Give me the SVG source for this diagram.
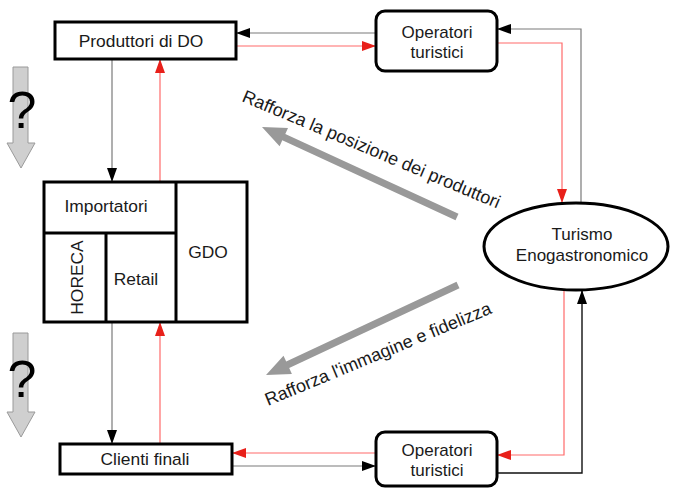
<svg xmlns="http://www.w3.org/2000/svg" width="674" height="488" viewBox="0 0 674 488">
  <defs>
    <marker id="headBlack" markerUnits="userSpaceOnUse" markerWidth="14" markerHeight="10" refX="14" refY="5" orient="auto">
      <path d="M0,0 L14,5 L0,10 Z" fill="#000"/>
    </marker>
    <marker id="headRed" markerUnits="userSpaceOnUse" markerWidth="14" markerHeight="10" refX="14" refY="5" orient="auto">
      <path d="M0,0 L14,5 L0,10 Z" fill="#e8201a"/>
    </marker>
  </defs>
  <style>
    text { font-family: "Liberation Sans", Arial, sans-serif; font-size: 17.4px; fill: #1a1a1a; }
    .slant { font-size: 18px; }
    .two { font-size: 17px; }
    .box { fill: #fff; stroke: #000; stroke-width: 3; }
    .thin { fill: none; stroke: #000; stroke-width: 3; }
    .gline { fill: none; stroke: #7a7a7a; stroke-width: 1.2; marker-end: url(#headBlack); }
    .kline { fill: none; stroke: #111; stroke-width: 1.4; marker-end: url(#headBlack); }
    .rline { fill: none; stroke: #ff6a6a; stroke-width: 1.2; marker-end: url(#headRed); }
    .bigarrow { fill: #999; }
    .qarrow { fill: #cfcfcf; stroke: #9a9a9a; stroke-width: 1; }
    .q { font-size: 52px; fill: #000; }
  </style>

  <!-- connectors -->
  <g id="connectors">
    <!-- Produttori <-> Operatori (top) -->
    <path class="gline" d="M376,33 L236,33"/>
    <path class="rline" d="M236,46 L376,46"/>
    <!-- Operatori (top) <-> Turismo -->
    <path class="gline" d="M581,203 L581,29 L497,29"/>
    <path class="rline" d="M497,43 L562,43 L562,203"/>
    <!-- Turismo <-> Operatori (bottom) -->
    <path class="rline" d="M564,290 L564,455 L497,455"/>
    <path class="kline" d="M497,473 L582,473 L582,290"/>
    <!-- Operatori (bottom) <-> Clienti finali -->
    <path class="rline" d="M376,453 L232,453"/>
    <path class="gline" d="M232,466 L376,466"/>
    <!-- Produttori <-> distribution block -->
    <path class="gline" d="M112,59 L112,182"/>
    <path class="rline" d="M160,182 L160,59"/>
    <!-- distribution block <-> Clienti finali -->
    <path class="gline" d="M112,322 L112,444"/>
    <path class="rline" d="M160,444 L160,322"/>
  </g>

  <!-- broad grey arrows with captions -->
  <g id="rafforza-posizione">
    <polygon class="bigarrow" points="458.5,213.8 285.3,133.9 288,128 262,127 279.6,146.2 282.3,140.3 455.5,220.2"/>
    <text class="slant" transform="translate(241,101) rotate(22.8)">Rafforza la posizione dei produttori</text>
  </g>
  <g id="rafforza-immagine">
    <polygon class="bigarrow" points="456.5,281.8 286.2,361.6 283.5,355.7 266,375 291.9,373.9 289.2,368 459.5,288.2"/>
    <text class="slant" transform="translate(268,406) rotate(-22.5)">Rafforza l'immagine e fidelizza</text>
  </g>

  <!-- question-mark arrows on the left -->
  <g id="question-top">
    <polygon class="qarrow" points="13,67 28,67 28,143 35,143 21,168 7,143 13,143"/>
    <text class="q" x="22" y="128" text-anchor="middle">?</text>
  </g>
  <g id="question-bottom">
    <polygon class="qarrow" points="13,333 28,333 28,412 35,412 21,437 7,412 13,412"/>
    <text class="q" x="22" y="397" text-anchor="middle">?</text>
  </g>

  <!-- nodes -->
  <g id="produttori">
    <rect class="box" x="55" y="22" width="181" height="37"/>
    <text x="141" y="47" text-anchor="middle">Produttori di DO</text>
  </g>

  <g id="operatori-top">
    <rect class="box" x="376" y="11" width="121" height="60" rx="9"/>
    <text class="two" x="437" y="38" text-anchor="middle">Operatori</text>
    <text class="two" x="437" y="58" text-anchor="middle">turistici</text>
  </g>

  <g id="turismo">
    <ellipse class="box" cx="576" cy="246.5" rx="92" ry="43.5"/>
    <text class="two" x="582" y="240" text-anchor="middle">Turismo</text>
    <text class="two" x="582" y="261" text-anchor="middle">Enogastronomico</text>
  </g>

  <g id="distribuzione">
    <rect class="box" x="44" y="182" width="203" height="140"/>
    <path class="thin" d="M176,182 L176,322 M44,233 L176,233 M106,233 L106,322"/>
    <text x="106" y="212" text-anchor="middle">Importatori</text>
    <text x="208" y="258" text-anchor="middle">GDO</text>
    <text x="136" y="285" text-anchor="middle">Retail</text>
    <text transform="translate(83,277.5) rotate(-90)" text-anchor="middle">HORECA</text>
  </g>

  <g id="clienti">
    <rect class="box" x="60" y="444" width="172" height="30"/>
    <text x="145" y="465" text-anchor="middle">Clienti finali</text>
  </g>

  <g id="operatori-bottom">
    <rect class="box" x="376" y="432" width="121" height="54" rx="9"/>
    <text class="two" x="437" y="456" text-anchor="middle">Operatori</text>
    <text class="two" x="437" y="476" text-anchor="middle">turistici</text>
  </g>
</svg>
